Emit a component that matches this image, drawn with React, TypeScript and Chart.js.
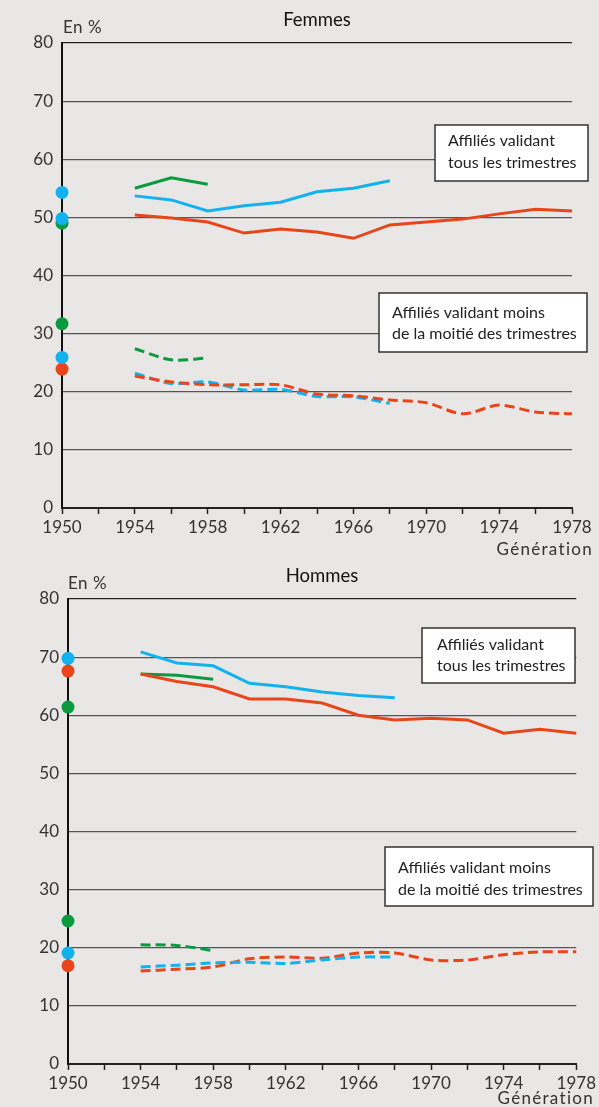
import React, { useEffect, useRef } from "react";
import { Chart, registerables } from "chart.js";
Chart.register(...registerables);

// Generations (x values)
const years = [1954, 1956, 1958, 1960, 1962, 1964, 1966, 1968, 1970, 1972, 1974, 1976, 1978];
const xMin = 1950;
const xMax = 1978;
const yMax = 80;

// Femmes — affiliés validant tous les trimestres
const fTousGreen = [55.0, 56.8, 55.7];
const fTousBlue = [53.7, 53.0, 51.1, 52.0, 52.6, 54.4, 55.0, 56.3];
const fTousOrange = [50.4, 49.9, 49.2, 47.3, 48.0, 47.5, 46.4, 48.7, 49.2, 49.7, 50.6, 51.4, 51.1];
// Femmes — moins de la moitié des trimestres
const fMoinsGreen = [27.4, 25.5, 25.8];
const fMoinsBlue = [23.2, 21.4, 21.7, 20.3, 20.4, 19.2, 19.1, 18.0];
const fMoinsOrange = [22.7, 21.7, 21.2, 21.2, 21.2, 19.6, 19.3, 18.6, 18.1, 16.2, 17.7, 16.5, 16.2];
// Femmes — points génération 1950
const fPtsGreen = [49.0, 31.7];
const fPtsBlue = [54.3, 49.8, 25.9];
const fPtsOrange = [23.9];

// Hommes — tous les trimestres
const hTousGreen = [67.1, 66.9, 66.2];
const hTousBlue = [70.9, 69.0, 68.5, 65.5, 64.9, 64.0, 63.4, 63.0];
const hTousOrange = [67.1, 65.8, 64.9, 62.8, 62.8, 62.1, 60.0, 59.2, 59.5, 59.2, 56.9, 57.6, 56.9];
// Hommes — moins de la moitié
const hMoinsGreen = [20.5, 20.4, 19.5];
const hMoinsBlue = [16.7, 17.0, 17.4, 17.5, 17.3, 17.9, 18.4, 18.4];
const hMoinsOrange = [16.0, 16.3, 16.7, 18.1, 18.4, 18.2, 19.1, 19.1, 17.9, 17.9, 18.8, 19.3, 19.3];
// Hommes — points 1950
const hPtsGreen = [61.4, 24.6];
const hPtsBlue = [69.8, 19.1];
const hPtsOrange = [67.6, 16.9];

const labelTous = ["Affiliés validant", "tous les trimestres"];
const labelMoins = ["Affiliés validant moins", "de la moitié des trimestres"];

const GREEN = "#0a9b40";
const BLUE = "#12b2ee";
const ORANGE = "#e9451a";
const BG = "#e9e7e5";
const FONT = "Lato, 'Open Sans', sans-serif";

const toXY = (vals: number[]) => vals.map((v, i) => ({ x: years[i], y: v }));
const pts = (vals: number[]) => vals.map((v) => ({ x: 1950, y: v }));

function lineDs(vals: number[], color: string, dashed: boolean) {
  return {
    data: toXY(vals),
    borderColor: color,
    backgroundColor: color,
    borderWidth: 3,
    borderDash: dashed ? [10, 5] : [],
    tension: dashed ? 0.3 : 0,
    pointRadius: 0,
    fill: false,
    clip: false as any,
  };
}
function ptDs(vals: number[], color: string) {
  return {
    data: pts(vals),
    showLine: false,
    borderColor: color,
    backgroundColor: color,
    pointRadius: 6.5,
    pointBorderWidth: 0,
    clip: false as any,
  };
}

type Box = { x1: number; y1: number; x2: number; y2: number; tx: number; lines: string[]; ly: number[] };

type Spec = {
  off: number;
  height: number;
  title: string;
  titleX: number;
  enX: number;
  genX: number;
  genY: number;
  boxes: Box[];
  datasets: any[];
};

function makeConfig(s: Spec): any {
  const overlay = {
    id: "overlay",
    afterDraw(chart: any) {
      const ctx = chart.ctx as CanvasRenderingContext2D;
      ctx.save();
      ctx.fillStyle = "#111";
      ctx.font = `18.5px ${FONT}`;
      ctx.textAlign = "center";
      ctx.textBaseline = "middle";
      ctx.fillText(s.title, s.titleX, 20);
      ctx.font = `17px ${FONT}`;
      ctx.fillStyle = "#333";
      ctx.textAlign = "left";
      (ctx as any).letterSpacing = "0.5px";
      ctx.fillText("En %", s.enX, 28);
      ctx.font = `17px ${FONT}`;
      (ctx as any).letterSpacing = "1.3px";
      ctx.textAlign = "right";
      ctx.fillText("Génération", s.genX, s.genY);
      (ctx as any).letterSpacing = "0px";
      for (const b of s.boxes) {
        ctx.fillStyle = "#ffffff";
        ctx.fillRect(b.x1, b.y1, b.x2 - b.x1, b.y2 - b.y1);
        ctx.strokeStyle = "#333";
        ctx.lineWidth = 1.5;
        ctx.strokeRect(b.x1, b.y1, b.x2 - b.x1, b.y2 - b.y1);
        ctx.fillStyle = "#222";
        ctx.font = `16px ${FONT}`;
        ctx.textAlign = "left";
        b.lines.forEach((t, i) => ctx.fillText(t, b.tx, b.ly[i]));
      }
      ctx.restore();
    },
  };
  const left = 62 + s.off;
  const right = 572 + s.off;
  return {
    type: "line",
    data: { datasets: s.datasets },
    options: {
      animation: false,
      responsive: false,
      maintainAspectRatio: false,
      parsing: true,
      layout: { padding: { top: 43, left: 0, right: 599 - right, bottom: 0 } },
      plugins: { legend: { display: false }, tooltip: { enabled: false }, title: { display: false } },
      scales: {
        x: {
          type: "linear",
          min: xMin,
          max: xMax,
          afterFit: (sc: any) => {
            sc.height = s.height - 508;
          },
          ticks: {
            stepSize: 2,
            autoSkip: false,
            maxRotation: 0,
            padding: 3,
            color: "#333",
            font: { family: FONT, size: 17 },
            callback: (v: any) => ((Number(v) - 1950) % 4 === 0 ? String(v) : ""),
          },
          grid: { drawOnChartArea: false, drawTicks: true, tickLength: 6, color: "#222", tickWidth: 1.5 },
          border: { display: true, color: "#222", width: 2 },
        },
        y: {
          min: 0,
          max: yMax,
          afterFit: (sc: any) => {
            sc.width = left;
          },
          ticks: { stepSize: 10, padding: 9, color: "#333", font: { family: FONT, size: 17 } },
          grid: {
            drawTicks: false,
            lineWidth: 1.2,
            color: (c: any) => (c.tick && c.tick.value === 80 ? "#222" : "#555"),
          },
          border: { display: true, color: "#111", width: 2 },
        },
      },
    },
    plugins: [overlay],
  };
}

const femmes: Spec = {
  off: 0,
  height: 556,
  title: "Femmes",
  titleX: 317,
  enX: 63,
  genX: 593,
  genY: 550,
  boxes: [
    { x1: 435, y1: 125, x2: 588, y2: 181, tx: 448, lines: labelTous, ly: [141, 163] },
    { x1: 379, y1: 293, x2: 587, y2: 352, tx: 392, lines: labelMoins, ly: [313, 334] },
  ],
  datasets: [
    lineDs(fTousGreen, GREEN, false),
    lineDs(fTousBlue, BLUE, false),
    lineDs(fTousOrange, ORANGE, false),
    lineDs(fMoinsGreen, GREEN, true),
    lineDs(fMoinsOrange, ORANGE, true),
    lineDs(fMoinsBlue, BLUE, true),
    ptDs(fPtsBlue, BLUE),
    ptDs(fPtsOrange, ORANGE),
    ptDs(fPtsGreen, GREEN),
  ],
};

const hommes: Spec = {
  off: 6,
  height: 551,
  title: "Hommes",
  titleX: 322,
  enX: 68,
  genX: 594,
  genY: 543,
  boxes: [
    { x1: 422, y1: 72, x2: 575, y2: 127, tx: 437, lines: labelTous, ly: [89, 110] },
    { x1: 385, y1: 291, x2: 593, y2: 350, tx: 398, lines: labelMoins, ly: [312, 334] },
  ],
  datasets: [
    lineDs(hTousBlue, BLUE, false),
    lineDs(hTousOrange, ORANGE, false),
    lineDs(hTousGreen, GREEN, false),
    lineDs(hMoinsGreen, GREEN, true),
    lineDs(hMoinsBlue, BLUE, true),
    lineDs(hMoinsOrange, ORANGE, true),
    ptDs(hPtsBlue, BLUE),
    ptDs(hPtsOrange, ORANGE),
    ptDs(hPtsGreen, GREEN),
  ],
};

function Panel({ spec, top }: { spec: Spec; top: number }) {
  const ref = useRef<HTMLCanvasElement | null>(null);
  useEffect(() => {
    if (!ref.current) return;
    const chart = new Chart(ref.current, makeConfig(spec));
    return () => chart.destroy();
  }, [spec]);
  return (
    <canvas
      ref={ref}
      width={599}
      height={spec.height}
      style={{ position: "absolute", left: 0, top, width: 599, height: spec.height, display: "block" }}
    />
  );
}

export default function App() {
  useEffect(() => {
    document.body.style.margin = "0";
    document.body.style.overflow = "hidden";
  }, []);
  return (
    <div style={{ position: "absolute", left: 0, top: 0, width: 599, height: 1107, background: BG, overflow: "hidden" }}>
      <Panel spec={femmes} top={0} />
      <Panel spec={hommes} top={556} />
    </div>
  );
}
